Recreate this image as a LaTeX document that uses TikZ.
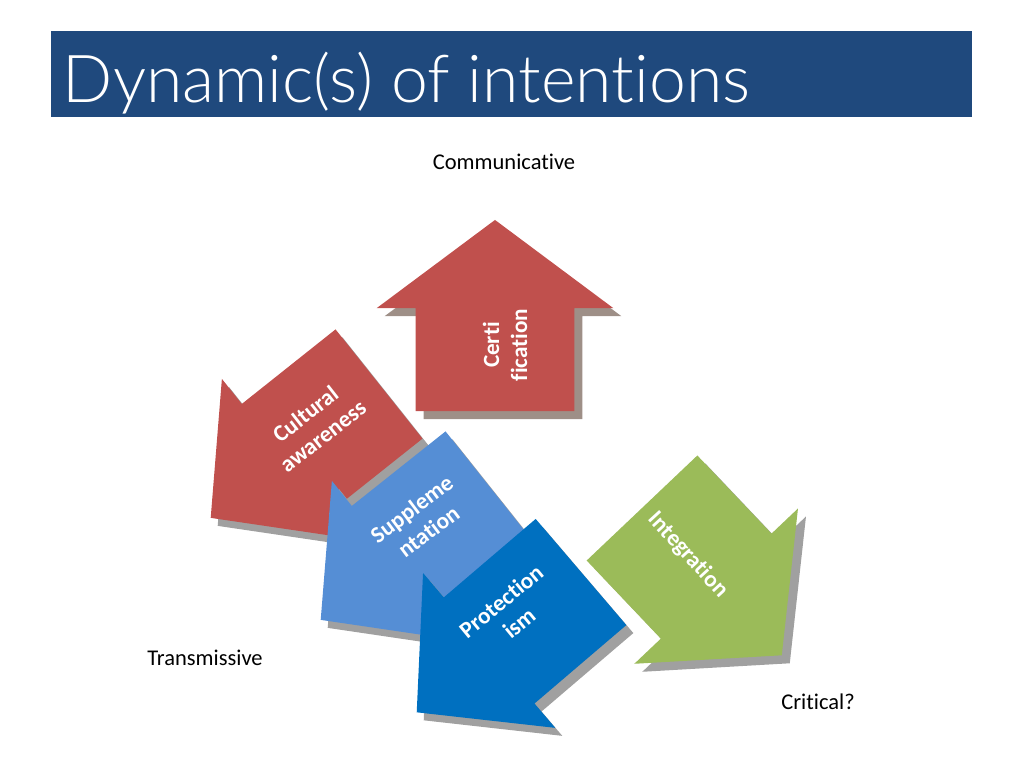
\documentclass[tikz,border=0pt]{standalone}
\usepackage{fontspec}
\setmainfont[Ligatures=NoCommon]{Carlito}
\newfontfamily\titlefont[Ligatures=NoCommon]{Lato Light}
\usetikzlibrary{shapes.arrows}

\begin{document}
\begin{tikzpicture}[x=0.025cm, y=-0.025cm,
    % one unit = one slide pixel, y runs downwards
    bigarrow/.style={single arrow, anchor=tail, inner xsep=0pt, outer sep=0pt},
    arrowshadow/.style={bigarrow, fill=shadowC},
    lbl/.style={font=\bfseries\fontsize{16.5}{20}\selectfont, text=white, align=center},
    axislbl/.style={font=\fontsize{16}{19}\selectfont, text=black}
]

\definecolor{titleC}{RGB}{31,73,125}
\definecolor{redC}{RGB}{192,80,77}
\definecolor{lblueC}{RGB}{85,142,213}
\definecolor{dblueC}{RGB}{0,112,192}
\definecolor{greenC}{RGB}{155,187,89}
\definecolor{shadowC}{RGB}{160,160,160}
\definecolor{warmshadowC}{RGB}{158,143,135}

\useasboundingbox (0,0) rectangle (1024,768);

% title bar
\fill[titleC] (51,31) rectangle (972,117);
\node[font=\titlefont\fontsize{47}{56}\selectfont, text=white, anchor=base west] (title) at (58,103) {Dynamic(s) of intentions};

% axis texts
\node[axislbl] (comm) at (504,162) {Communicative};
\node[axislbl] (trans) at (205,658) {Transmissive};
\node[axislbl] (crit) at (818,702) {Critical?};

% Certification (up)
\node[arrowshadow, fill=warmshadowC, rotate=90, minimum height=4.775cm, minimum width=5.9cm, inner ysep=1.975cm,
      single arrow head extend=0.975cm, single arrow tip angle=106.6] (cert-sh) at (503,419) {};
\node[bigarrow, fill=redC, rotate=90, minimum height=4.775cm, minimum width=5.9cm, inner ysep=1.975cm,
      single arrow head extend=0.975cm, single arrow tip angle=106.6] (cert) at (495,411) {};
\node[lbl, rotate=90] (cert-lbl) at (505,345) {Certi\\fication};

% Cultural awareness
\node[arrowshadow, rotate=218.5, minimum height=5.375cm, minimum width=5.075cm, inner ysep=1.7375cm,
      single arrow head extend=0.8cm, single arrow tip angle=93.8] (cult-sh) at (386,392) {};
\node[bigarrow, fill=redC, rotate=218.5, minimum height=5.375cm, minimum width=5.075cm, inner ysep=1.7375cm,
      single arrow head extend=0.8cm, single arrow tip angle=93.8] (cult) at (379,384) {};
\node[lbl, rotate=38] (cult-lbl) at (314,425) {Cultural\\awareness};

% Supplementation
\node[arrowshadow, rotate=218.5, minimum height=5.375cm, minimum width=5.075cm, inner ysep=1.7375cm,
      single arrow head extend=0.8cm, single arrow tip angle=93.8] (supp-sh) at (496,494) {};
\node[bigarrow, fill=lblueC, rotate=218.5, minimum height=5.375cm, minimum width=5.075cm, inner ysep=1.7375cm,
      single arrow head extend=0.8cm, single arrow tip angle=93.8] (supp) at (489,486) {};
\node[lbl, rotate=37] (supp-lbl) at (420,520) {Suppleme\\ntation};

% Protectionism
\node[arrowshadow, rotate=220.5, minimum height=5.4cm, minimum width=5.075cm, inner ysep=1.7375cm,
      single arrow head extend=0.8cm, single arrow tip angle=93.8] (prot-sh) at (588,580) {};
\node[bigarrow, fill=dblueC, rotate=220.5, minimum height=5.4cm, minimum width=5.075cm, inner ysep=1.7375cm,
      single arrow head extend=0.8cm, single arrow tip angle=93.8] (prot) at (581,572) {};
\node[lbl, rotate=39.5] (prot-lbl) at (510,612) {Protection\\ism};

% Integration
\node[arrowshadow, rotate=-46.5, minimum height=5.075cm, minimum width=5.625cm, inner ysep=1.9cm,
      single arrow head extend=0.9125cm, single arrow tip angle=99.6] (integ-sh) at (650,516) {};
\node[bigarrow, fill=greenC, rotate=-46.5, minimum height=5.075cm, minimum width=5.625cm, inner ysep=1.9cm,
      single arrow head extend=0.9125cm, single arrow tip angle=99.6] (integ) at (642,508) {};
\node[lbl, rotate=-47.5] (integ-lbl) at (688,555) {Integration};

\end{tikzpicture}
\end{document}
